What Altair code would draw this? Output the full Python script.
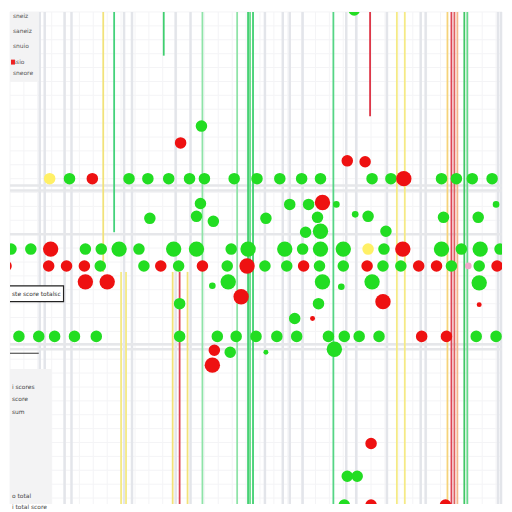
import altair as alt
import pandas as pd

# ---- data ----
# dots: x position, y position, colour class, size class
dot_x = [48, 68, 91, 128, 147, 168, 189, 204, 234, 257, 280, 302, 321, 373, 392, 405, 443, 458, 474, 494,
         348, 366,
         200, 290, 309, 323, 337, 498,
         149, 196, 213, 266, 318, 356, 369, 445, 480,
         306, 321, 387,
         9, 29, 49, 84, 100, 118, 138, 173, 196, 231, 248, 285, 303, 321, 344, 369, 385, 404, 443, 463, 482, 502,
         4, 47, 65, 83, 99, 143, 160, 178, 202, 227, 247, 265, 287, 304, 320, 344, 368, 384, 402, 420, 438, 453, 470, 481, 499,
         84, 106, 212, 228, 241, 179, 323, 342, 373, 384, 481, 481, 319, 295, 313,
         17, 37, 53, 73, 95, 179, 217, 236, 256, 277, 297, 329, 345, 360, 380, 423, 448, 478, 498,
         214, 230, 266, 335, 212,
         201, 180, 355,
         372, 348, 358, 345, 372, 447]
dot_y = [176, 176, 176, 176, 176, 176, 176, 176, 176, 176, 176, 176, 176, 176, 176, 176, 176, 176, 176, 176,
         158, 159,
         201, 202, 202, 200, 202, 202,
         216, 214, 219, 216, 215, 212, 214, 215, 215,
         230, 229, 229,
         247, 247, 247, 247, 247, 247, 247, 247, 247, 247, 247, 247, 247, 247, 247, 247, 247, 247, 247, 247, 247, 247,
         264, 264, 264, 264, 264, 264, 264, 264, 264, 264, 264, 264, 264, 264, 264, 264, 264, 264, 264, 264, 264, 264, 264, 264, 264,
         280, 280, 284, 280, 295, 302, 280, 285, 280, 300, 281, 303, 302, 317, 317,
         335, 335, 335, 335, 335, 335, 335, 335, 335, 335, 335, 335, 335, 335, 335, 335, 335, 335, 335,
         349, 351, 351, 348, 364,
         123, 140, 6,
         443, 476, 476, 505, 505, 505]
dot_c = ["y", "g", "r", "g", "g", "g", "g", "g", "g", "g", "g", "g", "g", "g", "g", "r", "g", "g", "g", "g",
         "r", "r",
         "g", "g", "g", "r", "g", "g",
         "g", "g", "g", "g", "g", "g", "g", "g", "g",
         "g", "g", "g",
         "g", "g", "r", "g", "g", "g", "g", "g", "g", "g", "g", "g", "g", "g", "g", "y", "g", "r", "g", "g", "g", "g",
         "r", "r", "r", "r", "g", "g", "r", "g", "r", "g", "r", "g", "g", "r", "g", "g", "r", "g", "g", "r", "r", "g", "p", "g", "r",
         "r", "r", "g", "g", "r", "g", "g", "g", "g", "r", "g", "r", "g", "g", "r",
         "g", "g", "g", "g", "g", "g", "g", "g", "g", "g", "g", "g", "g", "g", "g", "r", "r", "g", "g",
         "r", "g", "g", "g", "r",
         "g", "r", "g",
         "r", "g", "g", "g", "r", "r"]
dot_s = ["m", "m", "m", "m", "m", "m", "m", "m", "m", "m", "m", "m", "m", "m", "m", "l", "m", "m", "m", "m",
         "m", "m",
         "m", "m", "m", "l", "s", "s",
         "m", "m", "m", "m", "m", "s", "m", "m", "m",
         "m", "l", "m",
         "m", "m", "l", "m", "m", "l", "m", "l", "l", "m", "l", "l", "m", "l", "l", "m", "m", "l", "l", "m", "l", "m",
         "m", "m", "m", "m", "m", "m", "m", "m", "m", "m", "l", "m", "m", "m", "m", "m", "m", "m", "m", "m", "m", "m", "s", "m", "m",
         "l", "l", "s", "l", "l", "m", "l", "s", "l", "l", "l", "t", "m", "m", "t",
         "m", "m", "m", "m", "m", "m", "m", "m", "m", "m", "m", "m", "m", "m", "m", "m", "m", "m", "m",
         "m", "m", "t", "l", "l",
         "m", "m", "m",
         "m", "m", "m", "m", "m", "m"]

# coloured vertical lines: x, start, end, colour
line_x = [102, 113, 120, 125, 163, 172, 179, 187, 202, 237, 248, 250, 253, 334, 371, 398, 406, 449, 453, 456, 459, 466, 469]
line_y1 = [0, 0, 270, 270, 0, 270, 270, 270, 0, 0, 0, 0, 0, 0, 0, 0, 0, 0, 0, 0, 0, 0, 0]
line_y2 = [270, 230, 512, 512, 52, 512, 512, 512, 512, 512, 512, 512, 512, 512, 113, 512, 512, 512, 512, 512, 512, 512, 512]
line_c = ["#f2e27a", "#44d27a", "#f5ea85", "#f5ea85", "#3fcf6f", "#f2e27a", "#dd4455", "#f2e27a", "#8fe3a8",
          "#8fe3a8", "#3fcf6f", "#66dd88", "#3fcf6f", "#55d585", "#dd3344", "#f5ea85", "#f5ea85", "#f5d37a",
          "#dd4455", "#e06060", "#f3b58a", "#3fc766", "#66d98a"]

# grey structural lines
vgrid_x = [38, 43, 63, 70, 123, 131, 175, 190, 265, 283, 290, 303, 347, 357, 388, 422, 427, 500, 503]
hgrid_y = [183, 188, 232, 343, 348]

# text blocks
legend_lbl = ["sneiz", "saneiz", "snuio", "ssio", "sneore"]
legend_y = [12, 27, 42, 58, 70]
note_lbl = ["i scores", "score", "sum", "o total", "i total score"]
note_y = [386, 398, 411, 496, 507]
box_lbl = ["ste score totalsc"]

colour_map = {"g": "#22dd22", "r": "#ee1111", "y": "#fff066", "p": "#f0a8c8"}
size_map = {"t": 25, "s": 45, "m": 135, "l": 240}

dots = pd.DataFrame({"x": dot_x, "y": dot_y,
                     "c": [colour_map[c] for c in dot_c],
                     "s": [size_map[s] for s in dot_s]})
lines = pd.DataFrame({"x": line_x, "y1": line_y1, "y2": line_y2, "c": line_c})
vg = pd.DataFrame({"x": vgrid_x})
hg = pd.DataFrame({"y": hgrid_y})

XS = alt.Scale(domain=[8, 504], nice=False, zero=False)
YS = alt.Scale(domain=[8, 504], nice=False, zero=False, reverse=True)
X = lambda f: alt.X(f, type="quantitative", scale=XS, axis=None)
Y = lambda f: alt.Y(f, type="quantitative", scale=YS, axis=None)

fine = pd.DataFrame({"x": list(range(8, 512, 14))})
fine_v = alt.Chart(fine).mark_rule(color="#f4f4f6", strokeWidth=1).encode(x=X("x"), y=alt.value(0), y2=alt.value(496))
fine_h = alt.Chart(fine.rename(columns={"x": "y"})).mark_rule(color="#f4f4f6", strokeWidth=1).encode(y=Y("y"), x=alt.value(0), x2=alt.value(496))

grid_v = alt.Chart(vg).mark_rule(color="#e3e5ea", strokeWidth=2.5).encode(x=X("x"), y=alt.value(0), y2=alt.value(496))
grid_h = alt.Chart(hg).mark_rule(color="#e6e7ea", strokeWidth=2.5).encode(y=Y("y"), x=alt.value(0), x2=alt.value(496))

rules = alt.Chart(lines).mark_rule(strokeWidth=1.8, clip=True).encode(
    x=X("x"), y=Y("y1"), y2="y2", color=alt.Color("c:N", scale=None))

pts = alt.Chart(dots).mark_circle(opacity=1, clip=True).encode(
    x=X("x"), y=Y("y"), color=alt.Color("c:N", scale=None), size=alt.Size("s:Q", scale=None))

# boxes
box_df = pd.DataFrame({"x": [0, 0], "x2": [37, 50], "y": [0, 368], "y2": [78, 512]})
boxes = alt.Chart(box_df).mark_rect(color="#f3f3f4", clip=True).encode(x=X("x"), x2="x2", y=Y("y"), y2="y2")
frame_df = pd.DataFrame({"x": [0], "x2": [62], "y": [284], "y2": [300]})
frame = alt.Chart(frame_df).mark_rect(fill="white", stroke="#222222", strokeWidth=1.2, clip=True).encode(
    x=X("x"), x2="x2", y=Y("y"), y2="y2")
dash_df = pd.DataFrame({"x": [0], "x2": [37], "y": [352]})
dash = alt.Chart(dash_df).mark_rule(color="#333333", strokeWidth=1, clip=True).encode(x=X("x"), x2="x2", y=Y("y"))

leg_df = pd.DataFrame({"t": legend_lbl, "x": [11] * 5, "y": legend_y})
leg_txt = alt.Chart(leg_df).mark_text(align="left", baseline="middle", fontSize=6, color="#555555",
                                       font="DejaVu Sans").encode(x=X("x"), y=Y("y"), text="t")
sq_df = pd.DataFrame({"x": [9], "x2": [13], "y": [56], "y2": [61]})
sq = alt.Chart(sq_df).mark_rect(color="#ee2222").encode(x=X("x"), x2="x2", y=Y("y"), y2="y2")
note_df = pd.DataFrame({"t": note_lbl, "x": [10] * 5, "y": note_y})
note_txt = alt.Chart(note_df).mark_text(align="left", baseline="middle", fontSize=6, color="#444444",
                                         font="DejaVu Sans").encode(x=X("x"), y=Y("y"), text="t")
box_txt_df = pd.DataFrame({"t": box_lbl, "x": [10], "y": [292]})
box_txt = alt.Chart(box_txt_df).mark_text(align="left", baseline="middle", fontSize=6, color="#333333",
                                           font="DejaVu Sans").encode(x=X("x"), y=Y("y"), text="t")

chart = alt.layer(fine_v, fine_h, grid_v, grid_h, boxes, rules, pts, frame, dash, leg_txt, sq, note_txt, box_txt).properties(
    width=496, height=496, padding=0, background="white"
).configure_view(stroke=None)

chart.save("out.html", embed_options={"renderer": "svg", "actions": False})
